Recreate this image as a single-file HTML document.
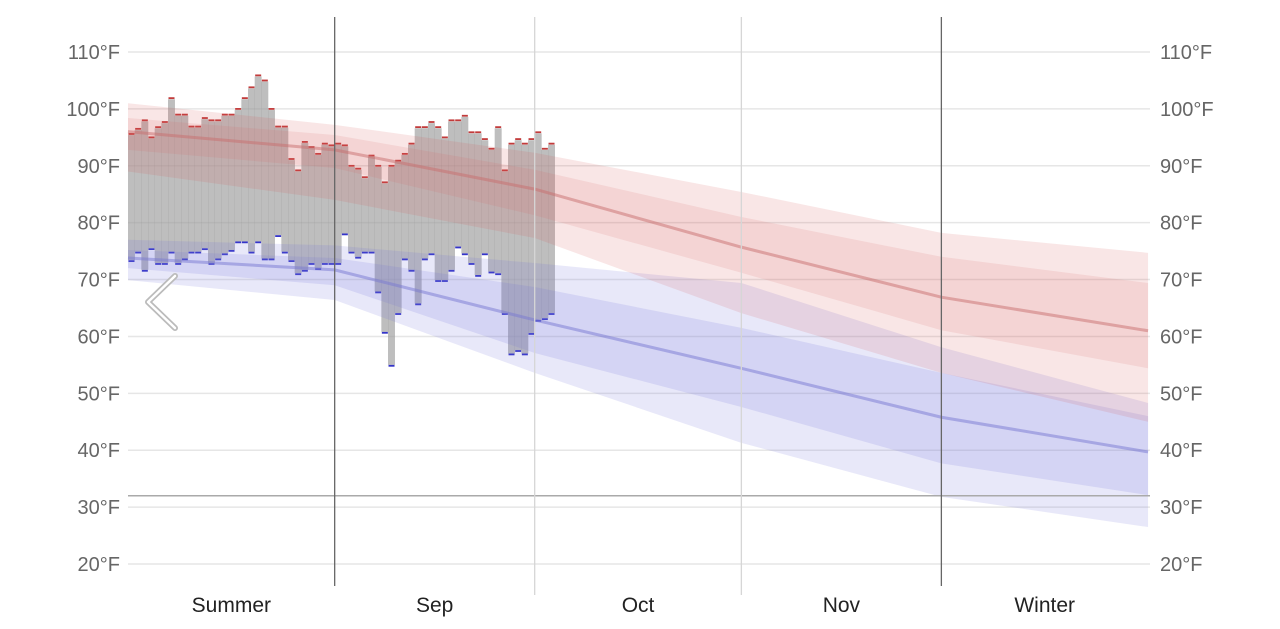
<!DOCTYPE html>
<html><head><meta charset="utf-8"><style>
body{margin:0;background:#fff;width:1280px;height:624px;overflow:hidden;font-family:"Liberation Sans",sans-serif}
</style></head><body>
<svg id="chart" width="1280" height="624" xmlns="http://www.w3.org/2000/svg"></svg>
<script>
const yTicks=[20,30,40,50,60,70,80,90,100,110];
const monthLabels=["Summer","Sep","Oct","Nov","Winter"];
const monthDays=[0,31,61,92,122,153];
const nodeDays=[0,31,61,92,122,153];
const redMid=[96,92.8,85.9,75.7,66.9,61];
const redOutHi=[101,97.2,92.3,85.4,78.2,74.7];
const redOutLo=[89,84,77.3,64.1,53.6,45];
const redInHi=[98.4,95.4,89.3,81,74,69.4];
const redInLo=[92.8,89.6,81.3,71.2,61.1,54.4];
const blueMid=[73.8,71.7,62.9,54.4,45.8,39.7];
const blueOutHi=[77,76,72.9,69.4,58.1,48.3];
const blueOutLo=[69.9,66.4,53.6,41.3,31.8,26.5];
const blueInHi=[75.2,73.8,68.7,61.5,53.6,46];
const blueInLo=[72,69,57.1,47.6,37.7,32.1];
const dayHigh=[95.4,96.3,97.8,94.8,96.6,97.5,101.7,98.8,98.8,96.7,96.7,98.2,97.8,97.8,98.8,98.8,99.8,101.7,103.6,105.7,104.8,99.8,96.7,96.7,91.0,89.0,94.0,93.1,91.9,93.7,93.4,
93.7,93.4,89.8,89.3,87.8,91.6,89.8,86.9,89.8,90.7,91.9,93.7,96.6,96.6,97.5,96.6,94.8,97.8,97.8,98.6,95.7,95.7,94.5,92.8,96.6,89.0,93.7,94.5,93.7,94.5,95.7,92.8,93.7];
const dayLow=[73.4,74.9,71.7,75.5,72.9,72.9,74.9,72.9,73.7,74.9,74.9,75.5,72.9,73.7,74.6,75.2,76.7,76.7,74.9,76.7,73.7,73.7,77.8,74.9,73.4,71.1,71.7,72.9,72.0,72.9,72.9,
72.9,78.1,74.9,74.0,74.9,74.9,67.9,60.8,55.0,64.1,73.7,71.7,65.8,73.7,74.6,69.9,69.9,71.7,75.8,74.6,72.9,70.8,74.6,71.4,71.1,64.1,57.0,57.6,57.0,60.6,62.9,63.2,64.1];

const NS="http://www.w3.org/2000/svg";
const svg=document.getElementById('chart');
const X0=128,DX=6.667;
const x=d=>X0+d*DX;
const y=t=>52+(110-t)*5.689;
function mk(tag,attrs,parent){const e=document.createElementNS(NS,tag);for(const k in attrs)e.setAttribute(k,attrs[k]);(parent||svg).appendChild(e);return e;}

yTicks.forEach(t=>{
  const g=mk('line',{x1:128,x2:1150,y1:y(t),y2:y(t),stroke:'#e6e6e6','stroke-width':1.5});
  
  
  const l=mk('text',{x:120,y:y(t)+7,'text-anchor':'end','font-size':20,fill:'#666'});
  l.textContent=t+'°F';
  
  
  const r=mk('text',{x:1160,y:y(t)+7,'text-anchor':'start','font-size':20,fill:'#666'});
  r.textContent=t+'°F';
  
  
});

dayHigh.forEach((h,i)=>{
  const lo=dayLow[i];
  const b=mk('rect',{x:x(i),y:y(h),width:DX+0.3,height:y(lo)-y(h),fill:'rgba(150,150,150,0.62)'});
  
  
  const rt=mk('rect',{x:x(i)+0.5,y:y(h)-2,width:6,height:1.8,fill:'#c23b3b'});
  
  
  const bt=mk('rect',{x:x(i)+0.5,y:y(lo),width:6,height:1.8,fill:'#3434c8'});
  
  
});

function band(hi,lo,fill,name){
  let p=nodeDays.map((d,i)=>x(d)+','+y(hi[i]));
  p=p.concat(nodeDays.slice().reverse().map((d,j)=>{const i=nodeDays.length-1-j;return x(d)+','+y(lo[i]);}));
  const e=mk('polygon',{points:p.join(' '),fill:fill});
  
  
}
function line(v,stroke,name){
  const e=mk('polyline',{points:nodeDays.map((d,i)=>x(d)+','+y(v[i])).join(' '),fill:'none',stroke:stroke,'stroke-width':3});
  
  
}
band(blueOutHi,blueOutLo,'rgba(110,110,215,0.16)','low-band-outer');
band(blueInHi,blueInLo,'rgba(110,110,215,0.16)','low-band-inner');
band(redOutHi,redOutLo,'rgba(215,90,90,0.15)','high-band-outer');
band(redInHi,redInLo,'rgba(215,90,90,0.13)','high-band-inner');
line(redMid,'rgba(200,110,110,0.5)','high-average-line');
line(blueMid,'rgba(120,120,210,0.5)','low-average-line');

const fz=mk('line',{x1:128,x2:1150,y1:y(32),y2:y(32),stroke:'#aaa','stroke-width':1.5});



[1,2,3,4].forEach(i=>{
  const dark=(i==1||i==4);
  const e=mk('line',{x1:x(monthDays[i]),x2:x(monthDays[i]),y1:17,y2:dark?586:595,stroke:dark?'#666':'#d6d6d6','stroke-width':1.3});
  
  
});
monthLabels.forEach((m,i)=>{
  const t=mk('text',{x:(x(monthDays[i])+x(monthDays[i+1]))/2,y:612,'text-anchor':'middle','font-size':21,fill:'#222'});
  t.textContent=m;
  
  
});

const ar=mk('polyline',{points:'175,276 148,302 175,328',fill:'none',stroke:'#bbb','stroke-width':6,'stroke-linecap':'round','stroke-linejoin':'round'});


const ar2=mk('polyline',{points:'175,276 148,302 175,328',fill:'none',stroke:'#fff','stroke-width':2.5,'stroke-linecap':'round','stroke-linejoin':'round'});


</script>
</body></html>
